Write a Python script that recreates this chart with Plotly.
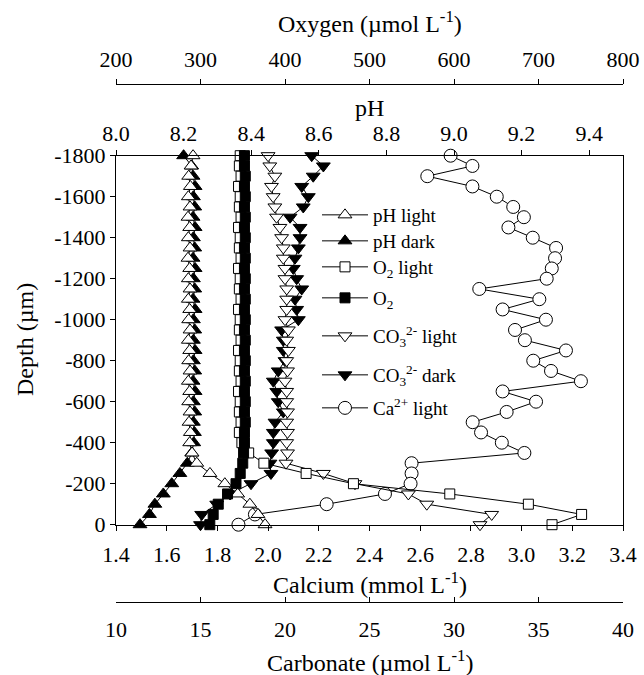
import plotly.graph_objects as go

# ---------------- data ----------------
depth = [-1800, -1750, -1700, -1650, -1600, -1550, -1500, -1450, -1400, -1350,
         -1300, -1250, -1200, -1150, -1100, -1050, -1000, -950, -900, -850,
         -800, -750, -700, -650, -600, -550, -500, -450, -400, -350,
         -300, -250, -200, -150, -100, -50, 0]

ph_light = [8.228, 8.222, 8.215, 8.220, 8.214, 8.219, 8.213, 8.218, 8.214, 8.219,
            8.213, 8.218, 8.214, 8.219, 8.214, 8.218, 8.215, 8.219, 8.214, 8.218,
            8.215, 8.219, 8.214, 8.218, 8.215, 8.219, 8.216, 8.220, 8.218, 8.225,
            8.239, 8.278, 8.322, 8.360, 8.396, 8.420, 8.441]

ph_dark = [8.200, 8.224, 8.228, 8.234, 8.229, 8.233, 8.228, 8.234, 8.229, 8.233,
           8.228, 8.234, 8.229, 8.233, 8.228, 8.234, 8.229, 8.233, 8.229, 8.234,
           8.229, 8.233, 8.228, 8.234, 8.229, 8.233, 8.229, 8.232, 8.230, 8.224,
           8.211, 8.189, 8.165, 8.140, 8.115, 8.099, 8.071]

o2_light = [347, 346, 348, 345, 347, 346, 348, 345, 347, 346,
            348, 345, 347, 346, 348, 345, 347, 346, 348, 345,
            347, 346, 348, 345, 347, 346, 348, 346, 349, 357,
            375, 425, 481, 595, 688, 751, 716]

o2_dark = [352, 352, 353, 352, 353, 352, 353, 352, 353, 352,
           353, 352, 353, 352, 353, 352, 353, 352, 353, 352,
           353, 352, 353, 352, 353, 352, 353, 352, 352, 351,
           350, 347, 342, 332, 321, 315, 311]

co3_light = [19.0, 19.1, 19.4, 19.2, 19.3, 19.4, 19.5, 19.7, 19.8, 19.9,
             19.9, 20.0, 20.0, 20.1, 20.1, 20.1, 20.0, 20.2, 20.1, 20.2,
             20.1, 20.15, 20.0, 20.1, 20.1, 20.15, 20.1, 20.15, 20.1, 20.15,
             20.06, 22.27, 24.14, 27.30, 28.39, 32.23, 31.54]

co3_dark = [21.58, 22.27, 21.67, 20.99, 21.38, 21.08, 20.30, 20.89, 20.89, 20.79,
            20.59, 20.49, 20.69, 20.99, 20.59, 20.69, 20.79, 19.80, 19.90, 19.90,
            20.00, 19.60, 19.31, 19.51, 19.60, 19.90, 19.41, 19.31, 19.31, 19.21,
            19.11, 19.17, 17.99, 16.75, 15.96, 15.07, 15.00]

ca_light = [2.720, 2.806, 2.628, 2.806, 2.902, 2.967, 3.009, 2.948, 3.044, 3.136,
            3.132, 3.119, 3.099, 2.833, 3.070, 2.925, 3.096, 2.974, 3.013, 3.175,
            3.046, 3.116, 3.234, 2.925, 3.057, 2.941, 2.807, 2.840, 2.922, 3.011,
            2.566, 2.566, 2.562, 2.461, 2.231, 1.948, 1.883]

depth_ticks = [-1800, -1600, -1400, -1200, -1000, -800, -600, -400, -200, 0]
depth_ticktext = ["-1800", "-1600", "-1400", "-1200", "-1000", "-800", "-600", "-400", "-200", "0"]
ca_ticks = [1.4, 1.6, 1.8, 2.0, 2.2, 2.4, 2.6, 2.8, 3.0, 3.2, 3.4]
ph_ticks = [8.0, 8.2, 8.4, 8.6, 8.8, 9.0, 9.2, 9.4]
o2_ticks = [200, 300, 400, 500, 600, 700, 800]
co3_ticks = [10, 15, 20, 25, 30, 35, 40]

# ---------------- layout geometry ----------------
W, H = 644, 675
L, R, T, B = 116, 21, 84, 73
PAPER_TOP, PAPER_BOT = T, H - B
PH = PAPER_BOT - PAPER_TOP
PW = W - L - R


def py(ypx):
    return (PAPER_BOT - ypx) / PH


def px(xpx):
    return (xpx - L) / PW


FONT = "Liberation Serif"
TICK_FS = 22
TITLE_FS = 24
LEG_FS = 19

legend_rows = [215, 241, 267, 298, 336, 375, 408]

fig = go.Figure()


def add(xs, xaxis, name, symbol, fill, slot, size):
    fig.add_trace(go.Scatter(
        x=xs, y=depth, xaxis=xaxis, yaxis="y", name=name, mode="lines+markers",
        line=dict(color="black", width=1),
        marker=dict(symbol=symbol, size=size, color=fill,
                    line=dict(color="black", width=1)),
        cliponaxis=False, legend="legend" if slot == 1 else "legend%d" % slot))


add(ph_dark, "x3", "pH dark", "triangle-up", "black", 2, 12)
add(ph_light, "x3", "pH light", "triangle-up", "white", 1, 12)
add(o2_light, "x4", "O<sub>2</sub> light", "square", "white", 3, 10)
add(o2_dark, "x4", "O<sub>2</sub>", "square", "black", 4, 10)
add(co3_dark, "x2", "CO<sub>3</sub><sup>2-</sup> dark", "triangle-down", "black", 6, 12)
add(co3_light, "x2", "CO<sub>3</sub><sup>2-</sup> light", "triangle-down", "white", 5, 12)
add(ca_light, "x", "Ca<sup>2+</sup> light", "circle", "white", 7, 13)

axis_common = dict(showgrid=False, zeroline=False, showline=True, linecolor="black",
                   linewidth=1, tickcolor="black", ticklen=5, tickwidth=1,
                   tickfont=dict(family=FONT, size=TICK_FS, color="black"))

ydom = [py(524.7), py(155.7)]

legends = {}
for i, row in enumerate(legend_rows):
    key = "legend" if i == 0 else "legend%d" % (i + 1)
    legends[key] = dict(x=px(317), y=py(row), xanchor="left", yanchor="middle",
                        bgcolor="rgba(0,0,0,0)", borderwidth=0, itemwidth=46,
                        font=dict(family=FONT, size=LEG_FS, color="black"))

fig.update_layout(
    width=W, height=H,
    margin=dict(l=L, r=R, t=T, b=B, autoexpand=False),
    paper_bgcolor="white", plot_bgcolor="white",
    font=dict(family=FONT, size=TICK_FS, color="black"),
    showlegend=True,
    yaxis=dict(domain=ydom, range=[0, -1800], tickvals=depth_ticks, ticktext=depth_ticktext,
               ticks="outside", mirror=True, anchor="x", **axis_common),
    xaxis=dict(range=[1.4, 3.4], tickvals=ca_ticks, tickformat=".1f", ticks="outside",
               anchor="y", side="bottom", ticklabelstandoff=5, **axis_common),
    xaxis2=dict(range=[10, 40], tickvals=co3_ticks, ticks="inside", anchor="free",
                position=0, side="bottom", overlaying="x", ticklabelstandoff=8, **axis_common),
    xaxis3=dict(range=[8.0, 9.5], tickvals=ph_ticks, tickformat=".1f", ticks="outside",
                anchor="y", side="top", overlaying="x", **axis_common),
    xaxis4=dict(range=[200, 800], tickvals=o2_ticks, ticks="outside", anchor="free",
                position=1, side="top", overlaying="x", ticklabelstandoff=3, **axis_common),
    **legends,
)

titles = [
    ("Oxygen (µmol L<sup>-1</sup>)", 22),
    ("pH", 108),
    ("Calcium (mmol L<sup>-1</sup>)", 583),
    ("Carbonate (µmol L<sup>-1</sup>)", 661),
]
for txt, ypx in titles:
    fig.add_annotation(text=txt, xref="paper", yref="paper", x=0.5, y=py(ypx),
                       xanchor="center", yanchor="middle", showarrow=False,
                       font=dict(family=FONT, size=TITLE_FS, color="black"))

fig.add_annotation(text="Depth (µm)", xref="paper", yref="paper",
                   x=px(25), y=py(340), xanchor="center", yanchor="middle",
                   textangle=-90, showarrow=False,
                   font=dict(family=FONT, size=TITLE_FS, color="black"))

fig.write_html("out.html", config={"displayModeBar": False},
               post_script="document.body.style.margin='0px';")
